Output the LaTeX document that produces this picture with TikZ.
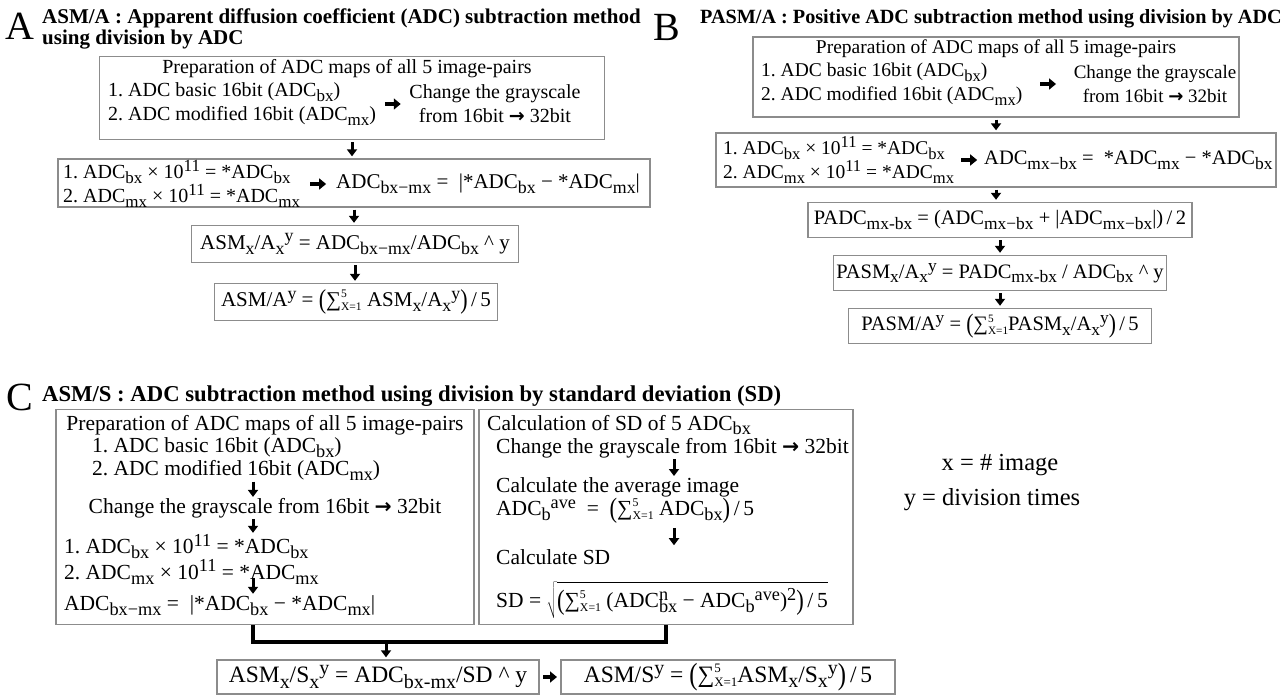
\documentclass[tikz,border=0pt]{standalone}
\usepackage{fontspec}
\setmainfont{Liberation Serif}
\newfontfamily\dvs{DejaVu Sans}
\usepackage{graphicx}
\usetikzlibrary{arrows.meta,positioning,calc}

\newcommand{\dn}[1]{\raisebox{-0.5ex}{\scalebox{0.85}{#1}}}
\newcommand{\upx}[1]{\raisebox{0.75ex}{\scalebox{0.85}{#1}}}
\newcommand{\sumx}{∑\makebox[0pt][l]{\raisebox{0.9ex}{\scalebox{0.55}{5}}}\raisebox{-0.4ex}{\scalebox{0.55}{X=1}}}
\newcommand{\lpar}{\raisebox{-0.2ex}{\scalebox{1.05}[1.3]{(}}}
\newcommand{\rpar}{\raisebox{-0.2ex}{\scalebox{1.05}[1.3]{)}}}
\newcommand{\rarr}{{\dvs\bfseries\scalebox{0.95}{→}}}
\newcommand{\fA}{\fontsize{20}{24}\selectfont}
\newcommand{\fAf}{\fontsize{21}{24}\selectfont}
\newcommand{\fB}{\fontsize{19.5}{24}\selectfont}
\newcommand{\fBf}{\fontsize{20.5}{24}\selectfont}
\newcommand{\fC}{\fontsize{21.5}{23}\selectfont}
\newcommand{\fCf}{\fontsize{23.5}{24}\selectfont}
\newcommand{\fL}{\fontsize{40}{40}\selectfont}
\frenchspacing

\begin{document}
\begin{tikzpicture}
[x=1pt,y=-1pt,
box/.style = {draw=black!45, line width=1.4pt, inner sep=0pt},
txt/.style = {inner sep=0pt},
arr/.style = {line width=3pt, -{Triangle[width=10pt,length=7pt]}, shorten <=2pt, shorten >=2pt},
inarr/.style = {line width=3.6pt, -{Triangle[width=11pt,length=7pt]}},
brk/.style = {line width=4.5pt},
]
\useasboundingbox (0,0) rectangle (1287,694);

% panel A
\node (la) at (20,26)[txt,font=\fL] {A};
\node (ta) at (42,29)[txt,font=\fontsize{21}{21}\selectfont\bfseries,anchor=west,align=left] {ASM/A : Apparent diffusion coefficient (ADC) subtraction method\\using division by ADC};
\node (a1) at (352,98)[box,minimum width=505,minimum height=83] {};
\node (a1t) at (347,69)[txt,font=\fA] {Preparation of ADC maps of all 5 image-pairs};
\node (a1l) at (108,104)[txt,font=\fA,anchor=west,align=left] {1. ADC basic 16bit (ADC\dn{bx})\\2. ADC modified 16bit (ADC\dn{mx})};
\node (a1r) at (495,104)[txt,font=\fA,align=center] {Change the grayscale\\from 16bit \rarr\ 32bit};
\draw[inarr] ($(a1l.east)!.5!(a1l.east -| a1r.west)+(-8,0)$) -- +(16,0);
\node (a2) at (354,183)[box,minimum width=592,minimum height=48] {};
\node (a2l) at (63,184)[txt,font=\fA,anchor=west,align=left] {1. ADC\dn{bx} × 10\upx{11} = *ADC\dn{bx}\\2. ADC\dn{mx} × 10\upx{11} = *ADC\dn{mx}};
\node (a2r) at (336,184)[txt,font=\fAf,anchor=west] {ADC\dn{bx−mx} = \ |*ADC\dn{bx} − *ADC\dn{mx}|};
\draw[inarr] ($(a2l.east)!.5!(a2l.east -| a2r.west)+(-8,0)$) -- +(16,0);
\node (a3) at (355,244)[box,minimum width=327,minimum height=37,font=\fAf] {ASM\dn{x}/A\dn{x}\upx{y} = ADC\dn{bx−mx}/ADC\dn{bx} \textasciicircum\ y};
\node (a4) at (356,302)[box,minimum width=283,minimum height=37,font=\fAf] {ASM/A\upx{y} = \lpar\sumx\ ASM\dn{x}/A\dn{x}\upx{y}\rpar\,/\,5};
\draw[arr] (a1.south) -- (a1.south |- a2.north);
\draw[arr] (a2.south) -- (a2.south |- a3.north);
\draw[arr] (a3.south) -- (a3.south |- a4.north);

% panel B
\node (lb) at (667,27)[txt,font=\fL] {B};
\node (tb) at (700,19)[txt,font=\fontsize{20.2}{20}\selectfont\bfseries,anchor=west] {PASM/A : Positive ADC subtraction method using division by ADC};
\node (b1) at (996,77)[box,minimum width=486,minimum height=80] {};
\node (b1t) at (996,49)[txt,font=\fB] {Preparation of ADC maps of all 5 image-pairs};
\node (b1l) at (761,84)[txt,font=\fB,anchor=west,align=left] {1. ADC basic 16bit (ADC\dn{bx})\\2. ADC modified 16bit (ADC\dn{mx})};
\node (b1r) at (1155,84)[txt,font=\fontsize{19}{24}\selectfont,align=center] {Change the grayscale\\from 16bit \rarr\ 32bit};
\draw[inarr] ($(b1l.east)!.5!(b1l.east -| b1r.west)+(-8,0)$) -- +(16,0);
\node (b2) at (996,160)[box,minimum width=560,minimum height=54] {};
\node (b2l) at (723,160)[txt,font=\fB,anchor=west,align=left] {1. ADC\dn{bx} × 10\upx{11} = *ADC\dn{bx}\\2. ADC\dn{mx} × 10\upx{11} = *ADC\dn{mx}};
\node (b2r) at (984,160)[txt,font=\fBf,anchor=west] {ADC\dn{mx−bx} = \ *ADC\dn{mx} − *ADC\dn{bx}};
\draw[inarr] ($(b2l.east)!.5!(b2l.east -| b2r.west)+(-8,0)$) -- +(16,0);
\node (b3) at (1000,220)[box,minimum width=384,minimum height=35,font=\fBf] {PADC\dn{mx-bx} = (ADC\dn{mx−bx} + |ADC\dn{mx−bx}|)\,/\,2};
\node (b4) at (1000,273)[box,minimum width=333,minimum height=35,font=\fBf] {PASM\dn{x}/A\dn{x}\upx{y} = PADC\dn{mx-bx} / ADC\dn{bx} \textasciicircum\ y};
\node (b5) at (1000,326)[box,minimum width=303,minimum height=35,font=\fBf] {PASM/A\upx{y} = \lpar\sumx PASM\dn{x}/A\dn{x}\upx{y}\rpar\,/\,5};
\draw[arr] (b1.south) -- (b1.south |- b2.north);
\draw[arr] (b2.south) -- (b2.south |- b3.north);
\draw[arr] (b3.south) -- (b3.south |- b4.north);
\draw[arr] (b4.south) -- (b4.south |- b5.north);

% panel C
\node (lc) at (20,397)[txt,font=\fL] {C};
\node (tc) at (42,396)[txt,font=\fontsize{22.7}{23}\selectfont\bfseries,anchor=west] {ASM/S : ADC subtraction method using division by standard deviation (SD)};
\node (c1) at (265,517)[box,minimum width=418,minimum height=215] {};
\node (c2) at (666,517)[box,minimum width=374,minimum height=215] {};
\node (c1a) at (265,425)[txt,font=\fC] {Preparation of ADC maps of all 5 image-pairs};
\node (c1b) at (92,459)[txt,font=\fC,anchor=west,align=left] {1. ADC basic 16bit (ADC\dn{bx})\\2. ADC modified 16bit (ADC\dn{mx})};
\node (c1c) at (265,508)[txt,font=\fC] {Change the grayscale from 16bit \rarr\ 32bit};
\node (c1d) at (64,559)[txt,font=\fC,anchor=west,align=left] {1. ADC\dn{bx} × 10\upx{11} = *ADC\dn{bx}\\2. ADC\dn{mx} × 10\upx{11} = *ADC\dn{mx}};
\node (c1e) at (64,606)[txt,font=\fC,anchor=west] {ADC\dn{bx−mx} = \ |*ADC\dn{bx} − *ADC\dn{mx}|};
\coordinate (c1x) at (253,0);
\draw[arr,shorten <=1pt,shorten >=1pt] (c1x |- c1b.south) -- (c1x |- c1c.north);
\draw[arr,shorten <=1pt,shorten >=1pt] (c1x |- c1c.south) -- (c1x |- c1d.north);
\draw[arr,shorten <=-6pt,shorten >=2pt] (c1x |- c1d.south) -- (c1x |- c1e.north);
\node (c2a) at (487,425)[txt,font=\fC,anchor=west] {Calculation of SD of 5 ADC\dn{bx}};
\node (c2b) at (496,448)[txt,font=\fC,anchor=west] {Change the grayscale from 16bit \rarr\ 32bit};
\node (c2c) at (496,487)[txt,font=\fC,anchor=west] {Calculate the average image};
\node (c2d) at (496,511)[txt,font=\fC,anchor=west] {ADC\dn{b}\upx{ave} \ = \ \lpar\sumx\ ADC\dn{bx}\rpar\,/\,5};
\node (c2e) at (496,557)[txt,font=\fC,anchor=west] {Calculate SD};
\node (c2f) at (496,600)[txt,font=\fC,anchor=west] {SD = $\sqrt{\hbox{\rule[-0.45em]{0pt}{1.55em}\lpar\sumx\ (ADC\makebox[0pt][l]{\upx{n}}\dn{bx} − ADC\dn{b}\upx{ave})\upx{2}\rpar\,/\,5}}$};
\coordinate (c2x) at (674,0);
\draw[arr,shorten <=1pt,shorten >=1pt] (c2x |- c2b.south) -- (c2x |- c2c.north);
\draw[arr,shorten <=4pt,shorten >=4pt] (c2x |- c2d.south) -- (c2x |- c2e.north);
\node (c3) at (378,677)[box,minimum width=322,minimum height=34,font=\fCf] {ASM\dn{x}/S\dn{x}\upx{y} = ADC\dn{bx-mx}/SD \textasciicircum\ y};
\node (c4) at (728,677)[box,minimum width=334,minimum height=34,font=\fCf] {ASM/S\upx{y} = \lpar\sumx ASM\dn{x}/S\dn{x}\upx{y}\rpar\,/\,5};
\coordinate (jl) at (253,642);
\coordinate (jr) at (666,642);
\coordinate (jm) at (386,642);
\draw[brk] (jl |- c1.south) -- (jl) -- (jr) -- (jr |- c2.south);
\draw[arr,shorten <=0pt] (jm) -- (jm |- c3.north);
\draw[inarr] ($(c3.east)!.5!(c4.west)+(-7,0)$) -- +(14,0);

% legend
\node (lx) at (1000,465)[txt,font=\fontsize{24.5}{25}\selectfont] {x = \# image};
\node (ly) at (992,500)[txt,font=\fontsize{24.5}{25}\selectfont] {y = division times};
\end{tikzpicture}
\end{document}
